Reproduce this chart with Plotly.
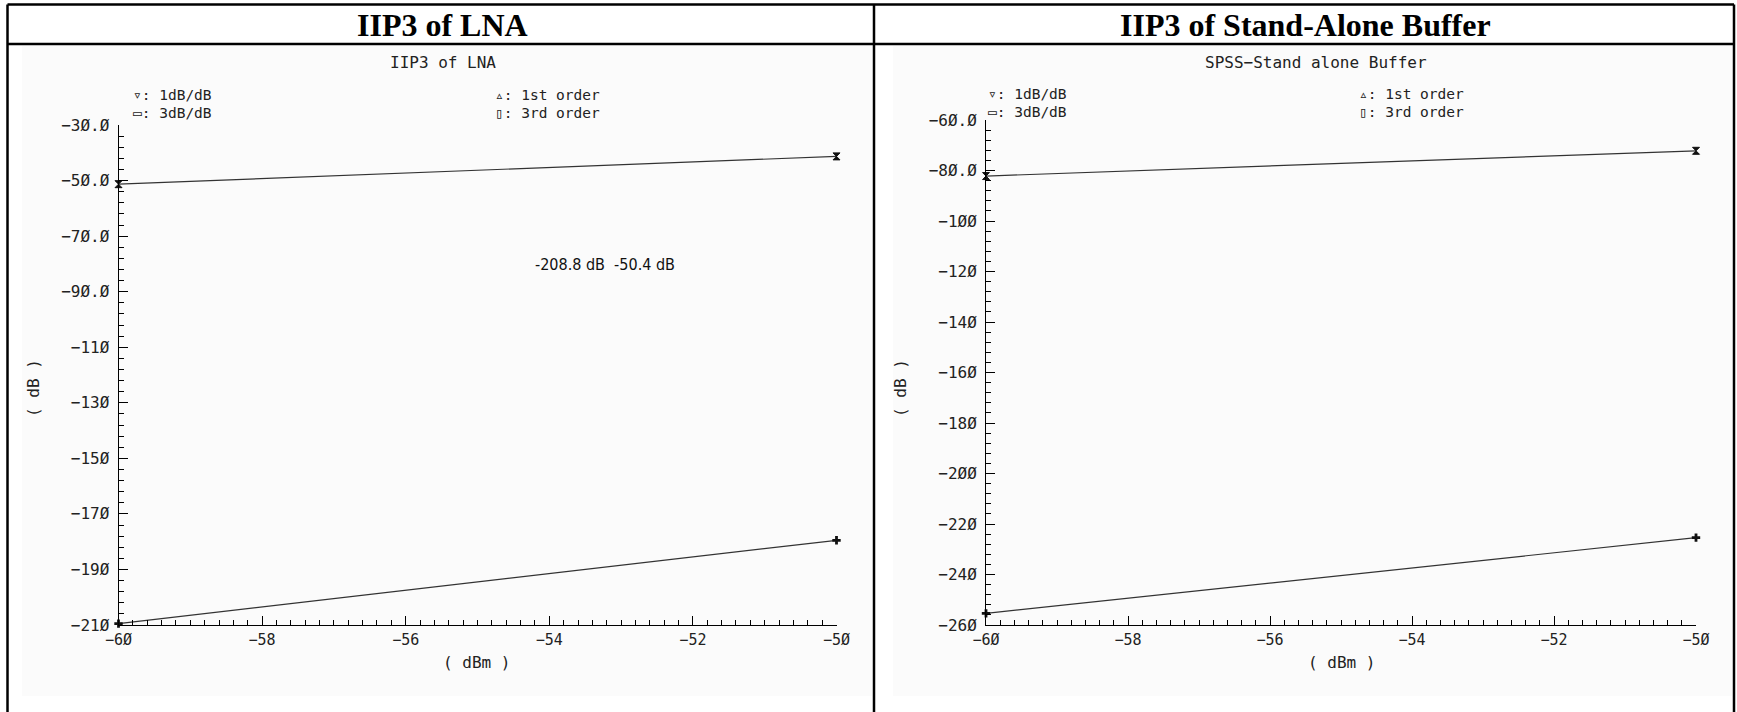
import plotly.graph_objects as go

W, H = 1737, 712

# ---------------- data ----------------
x_pin = [-60, -50]                       # input power (dBm)
lna_1st = [-51.3, -41.3]                 # LNA 1st order (dB)
lna_3rd = [-209.5, -179.5]               # LNA 3rd order (dB)
buf_1st = [-82.2, -72.2]                 # buffer 1st order (dB)
buf_3rd = [-255.4, -225.4]               # buffer 3rd order (dB)

x_tickvals = [-60, -58, -56, -54, -52, -50]
x_ticktext = ["−6Ø", "−58", "−56", "−54", "−52", "−5Ø"]
lna_tickvals = [-30, -50, -70, -90, -110, -130, -150, -170, -190, -210]
lna_ticktext = ["−3Ø.Ø", "−5Ø.Ø", "−7Ø.Ø", "−9Ø.Ø", "−11Ø", "−13Ø", "−15Ø", "−17Ø", "−19Ø", "−21Ø"]
buf_tickvals = [-60, -80, -100, -120, -140, -160, -180, -200, -220, -240, -260]
buf_ticktext = ["−6Ø.Ø", "−8Ø.Ø", "−1ØØ", "−12Ø", "−14Ø", "−16Ø", "−18Ø", "−2ØØ", "−22Ø", "−24Ø", "−26Ø"]

header_titles = ["IIP3 of LNA", "IIP3 of Stand-Alone Buffer"]
plot_titles = ["IIP3 of LNA", "SPSS−Stand alone Buffer"]
legend_left = ["▿: 1dB/dB", "▭: 3dB/dB"]
legend_right = ["▵: 1st order", "▯: 3rd order"]
marker_note = "-208.8 dB  -50.4 dB"


def px(x):
    return x / W


def py(y):
    return 1 - y / H


MONO = "DejaVu Sans Mono"
TXT = "#222222"
LINE = "#333333"

fig = go.Figure()

for xa, ya, first, third in [("x", "y", lna_1st, lna_3rd), ("x2", "y2", buf_1st, buf_3rd)]:
    fig.add_trace(go.Scatter(x=x_pin, y=first, xaxis=xa, yaxis=ya, mode="lines+markers",
                             line=dict(color=LINE, width=1.2),
                             marker=dict(symbol="hourglass", size=7, color="#111111",
                                         line=dict(color="#111111", width=1)),
                             cliponaxis=False, showlegend=False, hoverinfo="skip"))
    fig.add_trace(go.Scatter(x=x_pin, y=third, xaxis=xa, yaxis=ya, mode="lines+markers",
                             line=dict(color=LINE, width=1.2),
                             marker=dict(symbol="cross", size=7, color="#111111"),
                             cliponaxis=False, showlegend=False, hoverinfo="skip"))

common_x = dict(range=[-60, -50], tickmode="array", tickvals=x_tickvals, ticktext=x_ticktext,
                ticks="inside", ticklen=9, tickcolor="black", tickwidth=1, automargin=False,
                showline=True, linecolor="black", linewidth=1, showgrid=False, zeroline=False,
                tickfont=dict(family=MONO, size=15, color=TXT), ticklabelstandoff=1,
                minor=dict(tickmode="linear", tick0=-60, dtick=0.2, ticks="inside", ticklen=5,
                           tickcolor="black", tickwidth=1, showgrid=False))


def common_y(rng, tv, tt):
    return dict(range=rng, tickmode="array", tickvals=tv, ticktext=tt, automargin=False,
                ticks="inside", ticklen=9, tickcolor="black", tickwidth=1,
                showline=True, linecolor="black", linewidth=1, showgrid=False, zeroline=False,
                tickfont=dict(family=MONO, size=16, color=TXT), ticklabelstandoff=5,
                minor=dict(tickmode="linear", tick0=rng[1], dtick=4, ticks="inside", ticklen=5,
                           tickcolor="black", tickwidth=1, showgrid=False))


fig.update_layout(
    width=W, height=H, margin=dict(l=0, r=0, t=0, b=0, pad=0, autoexpand=False),
    paper_bgcolor="white", plot_bgcolor="rgba(0,0,0,0)",
    xaxis=dict(domain=[px(118.5), px(836.5)], anchor="y", **common_x),
    yaxis=dict(domain=[py(625), py(125)], anchor="x", **common_y([-210, -30], lna_tickvals, lna_ticktext)),
    xaxis2=dict(domain=[px(986), px(1696)], anchor="y2", **common_x),
    yaxis2=dict(domain=[py(625), py(120)], anchor="x2", **common_y([-260, -60], buf_tickvals, buf_ticktext)),
)

shapes = []
shapes.append(dict(type="rect", xref="paper", yref="paper", x0=px(22), x1=px(872), y0=py(696), y1=py(46),
                   fillcolor="#fbfbfb", line=dict(width=0), layer="below"))
shapes.append(dict(type="rect", xref="paper", yref="paper", x0=px(893), x1=px(1732), y0=py(696), y1=py(46),
                   fillcolor="#fbfbfb", line=dict(width=0), layer="below"))
bw = 2.5
for (x0, y0, x1, y1) in [(7.5, 4.5, 1734, 4.5), (7.5, 44, 1734, 44),
                         (7.5, 4.5, 7.5, 712), (874, 4.5, 874, 712), (1734, 4.5, 1734, 712)]:
    shapes.append(dict(type="line", xref="paper", yref="paper", x0=px(x0), y0=py(y0), x1=px(x1), y1=py(y1),
                       line=dict(color="black", width=bw)))
fig.update_layout(shapes=shapes)

ann = []
for t, cx in zip(header_titles, [442, 1305]):
    ann.append(dict(text="<b>" + t + "</b>", x=px(cx), y=py(25), xref="paper", yref="paper",
                    showarrow=False, xanchor="center", yanchor="middle",
                    font=dict(family="Liberation Serif", size=32, color="black")))
for t, cx in zip(plot_titles, [443, 1316]):
    ann.append(dict(text=t, x=px(cx), y=py(62), xref="paper", yref="paper",
                    showarrow=False, xanchor="center", yanchor="middle",
                    font=dict(family=MONO, size=16, color=TXT)))
for lx, rx, ys in [(131, 493, (95, 113)), (986, 1357, (94, 112))]:
    for t, yy in zip(legend_left, ys):
        ann.append(dict(text=t, x=px(lx), y=py(yy), xref="paper", yref="paper", showarrow=False,
                        xanchor="left", yanchor="middle", font=dict(family=MONO, size=14.5, color=TXT)))
    for t, yy in zip(legend_right, ys):
        ann.append(dict(text=t, x=px(rx), y=py(yy), xref="paper", yref="paper", showarrow=False,
                        xanchor="left", yanchor="middle", font=dict(family=MONO, size=14.5, color=TXT)))
for cx in (33, 900):
    ann.append(dict(text="( dB )", x=px(cx), y=py(388), xref="paper", yref="paper", showarrow=False,
                    textangle=-90, xanchor="center", yanchor="middle",
                    font=dict(family=MONO, size=16, color=TXT)))
for cx in (477, 1341):
    ann.append(dict(text="( dBm )", x=px(cx), y=py(662), xref="paper", yref="paper", showarrow=False,
                    xanchor="center", yanchor="middle", font=dict(family=MONO, size=16, color=TXT)))
ann.append(dict(text=marker_note, x=px(605), y=py(265), xref="paper", yref="paper", showarrow=False,
                xanchor="center", yanchor="middle",
                font=dict(family="Liberation Sans Narrow, DejaVu Sans Condensed, Roboto Condensed, Liberation Sans",
                          size=16, color="#111111")))
fig.update_layout(annotations=ann)

fig.write_html("out.html",
               post_script="document.body.style.margin='0';document.body.style.overflow='hidden';")
